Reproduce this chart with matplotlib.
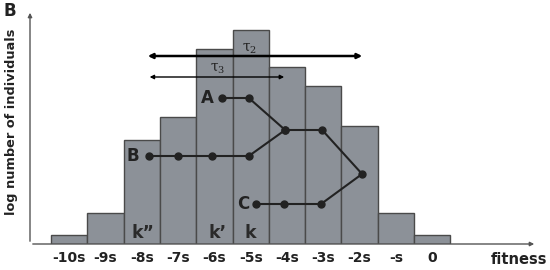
import numpy as np
import matplotlib.pyplot as plt

plt.rcParams['mathtext.fontset'] = 'dejavuserif'

# fitness classes (bin index) and log number of individuals
labels = ['-10s', '-9s', '-8s', '-7s', '-6s', '-5s', '-4s', '-3s', '-2s', '-s', '0']
classes = np.arange(-10, 1)
heights = [9, 31, 104, 127, 195, 214, 177, 158, 118, 31, 9]

# lineage paths (class, height)
path_a_x = [-5.79, -5.05, -4.05, -3.03, -1.93, -3.06, -4.08, -4.85]
path_a_y = [146, 146, 114, 114, 70, 40, 40, 40]
path_b_x = [-7.80, -7.0, -6.06, -5.05, -4.05]
path_b_y = [88, 88, 88, 88, 114]

fig = plt.figure(figsize=(5.5, 2.7), dpi=100)
ax = fig.add_axes([30 / 550, 26 / 270, 507 / 550, 234 / 270])
ax.set_xlim(-11.08, 2.89)
ax.set_ylim(0, 234)
ax.axis('off')

ax.bar(classes, heights, width=1.0, color='#8c9198', edgecolor='#4a4a4a', linewidth=1.0)

# axes as arrows
ax.annotate('', xy=(2.89, 0), xytext=(-11.08, 0),
            arrowprops=dict(arrowstyle='-|>', color='#555555', lw=1.0, mutation_scale=6))
ax.annotate('', xy=(-11.08, 234), xytext=(-11.08, 0),
            arrowprops=dict(arrowstyle='-|>', color='#555555', lw=1.0, mutation_scale=6))

for c, lab in zip(classes, labels):
    ax.text(c, -14, lab, ha='center', va='center', fontsize=10, fontweight='bold', color='#222222')
ax.text(2.4, -16, 'fitness', ha='center', va='center', fontsize=10.5, fontweight='bold', color='#222222')

# tau arrows
ax.annotate('', xy=(-7.91, 188), xytext=(-1.85, 188),
            arrowprops=dict(arrowstyle='<|-|>', color='black', lw=1.8, mutation_scale=7))
ax.annotate('', xy=(-7.86, 167), xytext=(-4.0, 167),
            arrowprops=dict(arrowstyle='<|-|>', color='black', lw=1.0, mutation_scale=6))
ax.text(-5.02, 195, r'$\mathrm{\tau}_2$', ha='center', va='center', fontsize=10, color='#222222')
ax.text(-5.9, 175, r'$\mathrm{\tau}_3$', ha='center', va='center', fontsize=10, color='#222222')

ax.plot(path_a_x, path_a_y, color='#222222', lw=1.5, marker='o', ms=5)
ax.plot(path_b_x, path_b_y, color='#222222', lw=1.5, marker='o', ms=5)
ax.text(-6.2, 146, 'A', ha='center', va='center', fontsize=12, fontweight='bold', color='#222222')
ax.text(-8.24, 88, 'B', ha='center', va='center', fontsize=12, fontweight='bold', color='#222222')
ax.text(-5.21, 40, 'C', ha='center', va='center', fontsize=12, fontweight='bold', color='#222222')

ax.text(-7.97, 11, 'k\u201d', ha='center', va='center', fontsize=12.5, fontweight='bold', color='#2a2a2a')
ax.text(-5.9, 11, 'k\u2019', ha='center', va='center', fontsize=12.5, fontweight='bold', color='#2a2a2a')
ax.text(-5.02, 11, 'k', ha='center', va='center', fontsize=12.5, fontweight='bold', color='#2a2a2a')

fig.text(12 / 550, 1 - 122 / 270, 'log number of individuals', rotation=90, ha='center', va='center',
         fontsize=9.3, fontweight='bold', color='#222222')
fig.text(10 / 550, 1 - 11 / 270, 'B', ha='center', va='center', fontsize=12, fontweight='bold', color='#222222')

fig.savefig('out.png', dpi=100)
